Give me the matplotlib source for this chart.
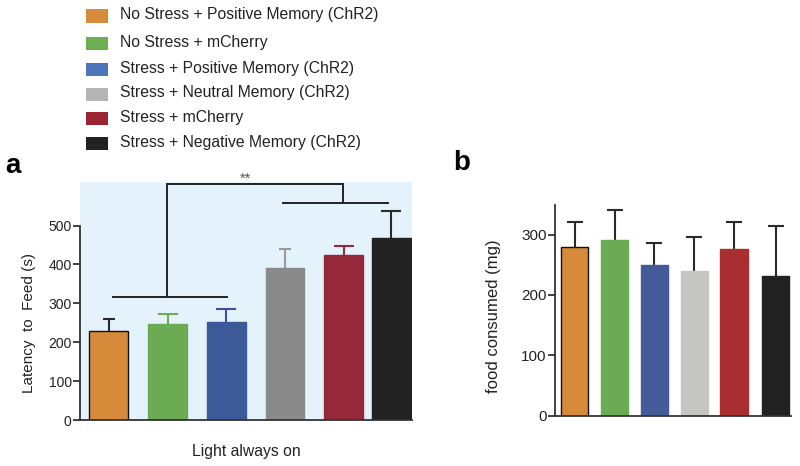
import numpy as np
import matplotlib.pyplot as plt
from matplotlib.patches import Rectangle

plt.rcParams['font.family'] = ['Liberation Sans', 'DejaVu Sans']

# Data
groups = ['No Stress + Positive Memory (ChR2)', 'No Stress + mCherry',
          'Stress + Positive Memory (ChR2)', 'Stress + Neutral Memory (ChR2)',
          'Stress + mCherry', 'Stress + Negative Memory (ChR2)']
latency_mean = [229, 246, 251, 391, 425, 469]
latency_err = [31, 26, 34, 50, 23, 68]
food_mean = [280, 291, 250, 240, 276, 232]
food_err = [41, 50, 36, 56, 45, 82]

# colours
legend_colors = ['#D68A3A', '#6AAF50', '#4B76BA', '#B4B4B4', '#9A2432', '#222222']
colors_a = ['#D68A3A', '#6AAB54', '#3D5A98', '#8A8A8A', '#95283A', '#222222']
err_colors_a = ['#2a2a2a', '#6AAB54', '#3D4F9E', '#9a9a9a', '#95283A', '#2a2a2a']
caps_a = [4.5, 7, 7, 4, 7, 7]
colors_b = ['#D68A3A', '#6AAB54', '#435C99', '#C5C6C1', '#A82E30', '#222222']


def upper_errorbar(ax, x, m, e, color, capsize):
    # only the upper half of the error bar, drawn behind the bar
    ax.plot([x, x], [m, m + e], color=color, lw=1.5, zorder=1, solid_capstyle='butt')
    ax.plot([x], [m + e], marker='_', markersize=2 * capsize, mew=1.5,
            color=color, zorder=1, clip_on=False)


fig = plt.figure(figsize=(8, 4.66), dpi=100)

# legend drawn at the top-left
legend_y = [16, 43, 69, 94, 118, 143]
for c, lab, yy in zip(legend_colors, groups, legend_y):
    fig.add_artist(Rectangle((86 / 800, 1 - (yy + 6.5) / 466), 22 / 800, 13 / 466,
                             facecolor=c, edgecolor='none', transform=fig.transFigure))
    fig.text(120 / 800, 1 - (yy - 1) / 466, lab, fontsize=11.3, color='#222222',
             va='center', ha='left')

spine_col = '#333333'

# panel a
ax = fig.add_axes([80 / 800, 46 / 466, 332 / 800, 238 / 466])
pos_a = [0, 1, 2, 3, 4, 4.81]
ax.set_facecolor('#E4F2FB')
ax.bar(pos_a, latency_mean, width=0.66, color=colors_a,
       edgecolor=['#111111', '#6AAB54', '#3D5A98', '#8A8A8A', '#95283A', '#222222'],
       linewidth=1.0, zorder=2)
for x, m, e, c, cs in zip(pos_a, latency_mean, latency_err, err_colors_a, caps_a):
    upper_errorbar(ax, x, m, e, c, cs)
ax.set_xlim(-0.49, 5.16)
ax.set_ylim(0, 612)
ax.set_yticks([0, 100, 200, 300, 400, 500])
ax.spines['left'].set_bounds(0, 500)
for s in ['top', 'right']:
    ax.spines[s].set_visible(False)
for s in ['left', 'bottom']:
    ax.spines[s].set_color(spine_col)
    ax.spines[s].set_linewidth(1.3)
ax.set_xticks([])
ax.tick_params(axis='y', length=5, width=1.3, color=spine_col, labelsize=10,
               labelcolor='#222222', pad=1)
ax.set_ylabel('Latency  to  Feed (s)', fontsize=11, color='#222222')
ax.yaxis.set_label_coords(-0.133, 0.408)
ax.set_xlabel('Light always on', fontsize=11.3, color='#222222', labelpad=17)

# significance brackets
bk = dict(color='#222222', lw=1.4, clip_on=False, zorder=3)
ax.plot([0.07, 2.01], [316, 316], **bk)
ax.plot([0.99, 0.99], [316, 608], **bk)
ax.plot([2.96, 4.75], [559, 559], **bk)
ax.plot([3.99, 3.99], [559, 608], **bk)
ax.plot([0.99, 3.99], [608, 608], **bk)
ax.text(2.33, 620, '**', ha='center', va='center', fontsize=10.5, color='#555555')

fig.text(13 / 800, 1 - 166 / 466, 'a', fontsize=20, fontweight='bold',
         ha='center', va='center')

# panel b
bx = fig.add_axes([555 / 800, 50.3 / 466, 236 / 800, 210.7 / 466])
pos_b = [0, 1, 2, 3, 4, 5.05]
bx.bar(pos_b, food_mean, width=0.68, color=colors_b,
       edgecolor=['#111111', '#6AAB54', '#435C99', '#C5C6C1', '#A82E30', '#222222'],
       linewidth=1.0, zorder=2)
for x, m, e in zip(pos_b, food_mean, food_err):
    upper_errorbar(bx, x, m, e, '#2a2a2a', 6)
bx.set_xlim(-0.495, 5.43)
bx.set_ylim(0, 349)
bx.set_yticks([0, 100, 200, 300])
for s in ['top', 'right']:
    bx.spines[s].set_visible(False)
for s in ['left', 'bottom']:
    bx.spines[s].set_color(spine_col)
    bx.spines[s].set_linewidth(1.3)
bx.set_xticks([])
bx.tick_params(axis='y', length=5, width=1.3, color=spine_col, labelsize=11,
               labelcolor='#222222', pad=1)
bx.set_ylabel('food consumed (mg)', fontsize=12, color='#222222')
bx.yaxis.set_label_coords(-0.229, 0.473)

fig.text(462 / 800, 1 - 163 / 466, 'b', fontsize=20, fontweight='bold',
         ha='center', va='center')

fig.savefig('out.png', dpi=100)
